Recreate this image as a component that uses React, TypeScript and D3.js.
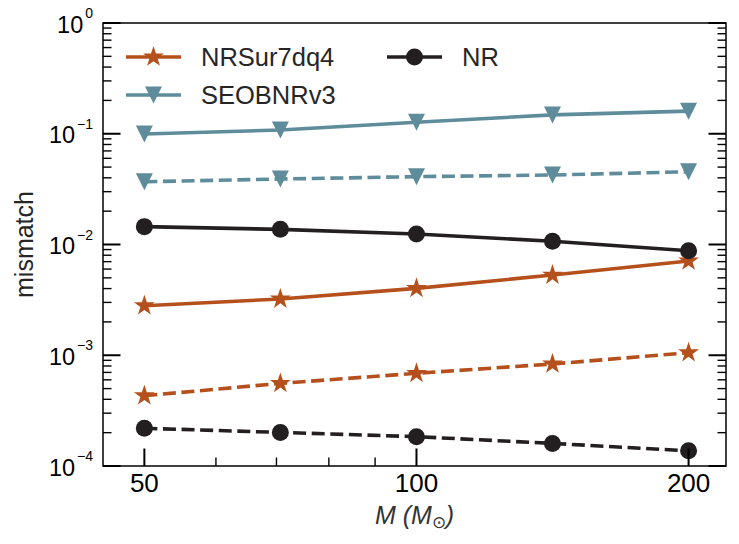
import React from "react";
import * as d3 from "d3";

const masses = [50, 70.7, 100, 141.4, 200];
const nrSurSolid = [0.0028, 0.00322, 0.00402, 0.0053, 0.0071];
const nrSurDashed = [0.000431, 0.000557, 0.000687, 0.000834, 0.001055];
const seobSolid = [0.0995, 0.108, 0.127, 0.148, 0.16];
const seobDashed = [0.0369, 0.039, 0.041, 0.0424, 0.0454];
const nrSolid = [0.0145, 0.0137, 0.01244, 0.0107, 0.00879];
const nrDashed = [0.000219, 0.000201, 0.000184, 0.00016, 0.000137];

const xMajorTicks = [50, 100, 200];
const xMinorTicks = [60, 70, 80, 90];
const yExponents = [-4, -3, -2, -1, 0];
const legendLabels = ["NRSur7dq4", "SEOBNRv3", "NR"];

const ORANGE = "#b5501c";
const TEAL = "#5e8c9b";
const BLACK = "#231f20";

const W = 739;
const H = 544;
const L = 103, R = 726, T = 23, B = 466;
const MS = 17;
const LW = 3.6;
const FONT = "'Liberation Sans', Arial, sans-serif";

const x = d3.scaleLog().domain([45, 220]).range([L, R]);
const y = d3.scaleLog().domain([1e-4, 1]).range([B, T]);

type MarkerKind = "star" | "tri" | "circle";

function markerPath(kind: MarkerKind): string {
  if (kind === "star") {
    return d3.symbol(d3.symbolStar, 135)() || "";
  }
  if (kind === "tri") {
    const h = MS / 2;
    return `M0,${h}L${-h},${-h}L${h},${-h}Z`;
  }
  return d3.symbol(d3.symbolCircle, Math.PI * (MS / 2) * (MS / 2))() || "";
}

const series = [
  { vals: nrSurSolid, color: ORANGE, kind: "star" as MarkerKind, dashed: false },
  { vals: nrSurDashed, color: ORANGE, kind: "star" as MarkerKind, dashed: true },
  { vals: seobSolid, color: TEAL, kind: "tri" as MarkerKind, dashed: false },
  { vals: seobDashed, color: TEAL, kind: "tri" as MarkerKind, dashed: true },
  { vals: nrSolid, color: BLACK, kind: "circle" as MarkerKind, dashed: false },
  { vals: nrDashed, color: BLACK, kind: "circle" as MarkerKind, dashed: true },
];

const line = d3
  .line<[number, number]>()
  .x((d) => x(d[0]))
  .y((d) => y(d[1]));

export default function App() {
  const yMinor: number[] = [];
  for (let e = -4; e < 0; e++) {
    for (let m = 2; m <= 9; m++) yMinor.push(m * Math.pow(10, e));
  }
  const legendItems = [
    { label: legendLabels[0], color: ORANGE, kind: "star" as MarkerKind, lx: 126, ly: 57 },
    { label: legendLabels[1], color: TEAL, kind: "tri" as MarkerKind, lx: 126, ly: 95 },
    { label: legendLabels[2], color: BLACK, kind: "circle" as MarkerKind, lx: 387, ly: 57 },
  ];
  return (
    <svg
      width={W}
      height={H}
      style={{ position: "absolute", left: 0, top: 0, background: "#fff" }}
      fontFamily={FONT}
    >
      {/* data */}
      <g>
        {series.map((s, i) => {
          const pts = masses.map((m, j) => [m, s.vals[j]] as [number, number]);
          return (
            <g key={i}>
              <path
                d={line(pts) || ""}
                fill="none"
                stroke={s.color}
                strokeWidth={LW}
                strokeDasharray={s.dashed ? "13 5.6" : undefined}
              />
              {pts.map((p, j) => (
                <path
                  key={j}
                  d={markerPath(s.kind)}
                  transform={`translate(${x(p[0])},${y(p[1])})`}
                  fill={s.color}
                />
              ))}
            </g>
          );
        })}
      </g>
      {/* frame */}
      <rect x={L} y={T} width={R - L} height={B - T} fill="none" stroke="#000" strokeWidth={1.5} />
      {/* y ticks */}
      {yExponents.map((e) => {
        const yy = y(Math.pow(10, e));
        return (
          <g key={"ym" + e}>
            <line x1={L} x2={L + 17.5} y1={yy} y2={yy} stroke="#000" strokeWidth={2} />
            <line x1={R} x2={R - 17.5} y1={yy} y2={yy} stroke="#000" strokeWidth={2} />
            <text x={93} y={yy + 9.5} textAnchor="end" fontSize={23.5} fill="#000">
              <tspan>10</tspan>
              <tspan dx={2} dy={-14.5} fontSize={14}>
                {e < 0 ? "\u2212" + Math.abs(e) : String(e)}
              </tspan>
            </text>
          </g>
        );
      })}
      {yMinor.map((v, i) => {
        const yy = y(v);
        return (
          <g key={"yn" + i}>
            <line x1={L} x2={L + 8.5} y1={yy} y2={yy} stroke="#000" strokeWidth={1.4} />
            <line x1={R} x2={R - 8.5} y1={yy} y2={yy} stroke="#000" strokeWidth={1.4} />
          </g>
        );
      })}
      {/* x ticks */}
      {xMajorTicks.map((v) => (
        <g key={"xm" + v}>
          <line x1={x(v)} x2={x(v)} y1={B} y2={B - 17.5} stroke="#000" strokeWidth={2} />
          <text x={x(v)} y={B + 26} textAnchor="middle" fontSize={26} fill="#000">
            {v}
          </text>
        </g>
      ))}
      {xMinorTicks.map((v) => (
        <line key={"xn" + v} x1={x(v)} x2={x(v)} y1={B} y2={B - 8.5} stroke="#000" strokeWidth={1.4} />
      ))}
      {/* axis labels */}
      <text
        transform={`translate(33,${(T + B) / 2}) rotate(-90)`}
        textAnchor="middle"
        fontSize={25}
        fill="#262626"
      >
        mismatch
      </text>
      <text x={(L + R) / 2} y={524} textAnchor="middle" fontSize={25} fill="#333" fontStyle="italic">
        <tspan>M (M</tspan>
        <tspan fontSize={17} dy={4} fontStyle="normal">{"\u2299"}</tspan>
        <tspan dy={-4}>)</tspan>
      </text>
      {/* legend */}
      {legendItems.map((it, i) => (
        <g key={"lg" + i}>
          <line x1={it.lx} x2={it.lx + 55} y1={it.ly} y2={it.ly} stroke={it.color} strokeWidth={LW} />
          <path d={markerPath(it.kind)} transform={`translate(${it.lx + 27.5},${it.ly})`} fill={it.color} />
          <text x={it.lx + 75} y={it.ly + 9} fontSize={25.5} fill="#262626">
            {it.label}
          </text>
        </g>
      ))}
    </svg>
  );
}
